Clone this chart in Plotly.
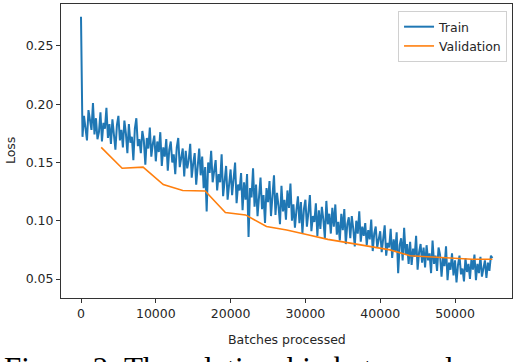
import plotly.graph_objects as go

# training loss, one reading every 200 batches
train_step = 200
train_loss = [
    0.275, 0.172, 0.190, 0.181, 0.169, 0.195, 0.186, 0.178, 0.201, 0.174,
    0.188, 0.170, 0.176, 0.193, 0.168, 0.184, 0.179, 0.197, 0.171, 0.183,
    0.166, 0.187, 0.174, 0.161, 0.182, 0.190, 0.169, 0.178, 0.163, 0.186,
    0.175, 0.158, 0.183, 0.167, 0.172, 0.152, 0.179, 0.188, 0.164, 0.170,
    0.158, 0.177, 0.169, 0.148, 0.171, 0.162, 0.180, 0.155, 0.166, 0.173,
    0.151, 0.168, 0.159, 0.176, 0.147, 0.163, 0.155, 0.170, 0.143, 0.161,
    0.168, 0.150, 0.157, 0.140, 0.163, 0.171, 0.146, 0.155, 0.162, 0.138,
    0.160, 0.145, 0.152, 0.166, 0.137, 0.149, 0.158, 0.131, 0.150, 0.162,
    0.139, 0.155, 0.128, 0.146, 0.108, 0.150, 0.141, 0.160, 0.133, 0.145,
    0.152, 0.126, 0.140, 0.133, 0.157, 0.121, 0.138, 0.147, 0.118, 0.135,
    0.144, 0.122, 0.136, 0.150, 0.115, 0.131, 0.126, 0.141, 0.109, 0.133,
    0.118, 0.140, 0.086, 0.128, 0.120, 0.145, 0.112, 0.131, 0.104, 0.125,
    0.137, 0.110, 0.122, 0.098, 0.128, 0.116, 0.134, 0.104, 0.119, 0.139,
    0.105, 0.124, 0.113, 0.097, 0.130, 0.108, 0.118, 0.101, 0.126, 0.111,
    0.132, 0.100, 0.114, 0.094, 0.109, 0.121, 0.098, 0.116, 0.089, 0.110,
    0.118, 0.095, 0.107, 0.122, 0.091, 0.104, 0.099, 0.115, 0.087, 0.109,
    0.093, 0.112, 0.101, 0.085, 0.117, 0.097, 0.106, 0.089, 0.111, 0.095,
    0.114, 0.088, 0.099, 0.083, 0.106, 0.092, 0.110, 0.080, 0.097, 0.103,
    0.085, 0.104, 0.093, 0.078, 0.100, 0.089, 0.108, 0.082, 0.095, 0.087,
    0.098, 0.079, 0.092, 0.084, 0.101, 0.074, 0.089, 0.095, 0.077, 0.086,
    0.091, 0.073, 0.086, 0.096, 0.070, 0.081, 0.077, 0.093, 0.068, 0.084,
    0.074, 0.090, 0.055, 0.079, 0.085, 0.066, 0.094, 0.071, 0.080, 0.063,
    0.082, 0.062, 0.076, 0.069, 0.087, 0.058, 0.073, 0.080, 0.064, 0.077,
    0.060, 0.079, 0.066, 0.072, 0.055, 0.083, 0.063, 0.070, 0.057, 0.077,
    0.071, 0.052, 0.068, 0.061, 0.078, 0.049, 0.064, 0.058, 0.072, 0.053,
    0.066, 0.047, 0.062, 0.070, 0.054, 0.059, 0.048, 0.068, 0.056, 0.063,
    0.050, 0.067, 0.058, 0.071, 0.049, 0.063, 0.055, 0.069, 0.052, 0.061,
    0.066, 0.051, 0.064, 0.057, 0.070, 0.068,
]
train_batches = [i * train_step for i in range(len(train_loss))]

val_batches = [2700, 5500, 8300, 11000, 13600, 16600, 19300, 22000, 24800, 27500,
               30300, 33000, 35800, 38500, 41300, 44000, 46800, 49500, 52300, 55000]
val_loss = [0.163, 0.145, 0.146, 0.131, 0.126, 0.1255, 0.107, 0.105, 0.095, 0.092,
            0.088, 0.084, 0.081, 0.078, 0.075, 0.070, 0.069, 0.068, 0.067, 0.067]

x_ticks = [0, 10000, 20000, 30000, 40000, 50000]
y_ticks = [0.05, 0.10, 0.15, 0.20, 0.25]

font = "DejaVu Sans"
txt = "#262626"

fig = go.Figure()
fig.add_trace(go.Scatter(x=train_batches, y=train_loss, mode="lines", name="Train",
                         line=dict(color="#1f77b4", width=2)))
fig.add_trace(go.Scatter(x=val_batches, y=val_loss, mode="lines", name="Validation",
                         line=dict(color="#ff7f0e", width=1.6)))

fig.update_layout(
    width=518,
    height=362,
    margin=dict(l=61, r=6, t=4, b=64),
    plot_bgcolor="white",
    paper_bgcolor="white",
    font=dict(family=font, size=12.5, color=txt),
    showlegend=True,
    legend=dict(
        x=0.989, y=0.976, xanchor="right", yanchor="top",
        bgcolor="rgba(255,255,255,0.8)", bordercolor="#d0d0d0", borderwidth=1,
        font=dict(size=12.5), tracegroupgap=0,
    ),
)
axis_style = dict(showline=True, linecolor="#333333", linewidth=1, mirror=True,
                  ticks="outside", ticklen=4, tickcolor="#333333",
                  showgrid=False, zeroline=False)
fig.update_xaxes(range=[-2674, 57620], tickvals=x_ticks, tickformat="d", **axis_style)
fig.update_yaxes(range=[0.0337, 0.286], tickvals=y_ticks, tickformat=".2f", **axis_style)

fig.add_annotation(text="Batches processed", xref="paper", yref="paper", x=0.5, y=-0.140,
                   xanchor="center", yanchor="middle", showarrow=False)
fig.add_annotation(text="Loss", xref="paper", yref="paper", x=-0.113, y=0.5, textangle=-90,
                   xanchor="center", yanchor="middle", showarrow=False)
# the figure caption sits below, only its upper half falls inside the picture
fig.add_annotation(text="Figure 2: The relationship between loss and batches", xref="paper",
                   yref="paper", x=-0.131, y=-0.172, xanchor="left", yanchor="top",
                   showarrow=False, font=dict(family="Liberation Serif", size=31, color="black"))

# drop the default 8px page margin so the figure sits at the window corner
fig.write_html("out.html", config={"displayModeBar": False},
               post_script="document.body.style.margin='0';")
